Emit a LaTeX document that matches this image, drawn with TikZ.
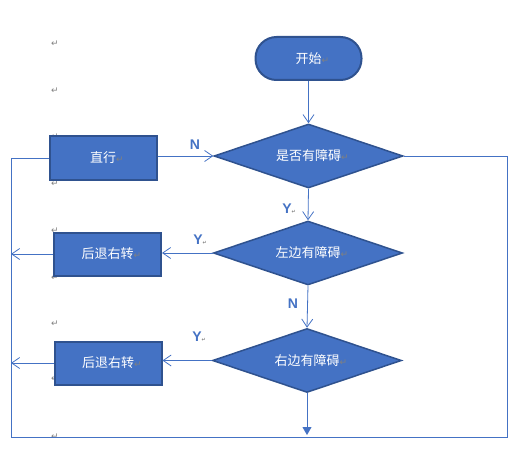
\documentclass[tikz,border=0pt]{standalone}
\usepackage{fontspec}
\setmainfont{Liberation Sans}
\newfontfamily\cjk{Noto Sans CJK SC}
\newfontfamily\symf{DejaVu Sans}
\usetikzlibrary{arrows.meta,shapes.geometric}
\definecolor{ofblue}{HTML}{4472C4}
\definecolor{ofdark}{HTML}{2F528F}
\definecolor{pmgray}{HTML}{808080}
\newcommand{\parmark}{{\symf\color{pmgray}\fontsize{9}{9}\selectfont ↵}}
\newcommand{\tinymark}{{\symf\color{pmgray}\fontsize{5}{5}\selectfont ↵}}
\newcommand{\intext}[1]{{\cjk #1}\rlap{\parmark}}
\begin{document}
\begin{tikzpicture}[x=1pt,y=-1pt,
  shapebase/.style={fill=ofblue,draw=ofdark,line width=2pt,text=white,
    font=\fontsize{13}{13}\selectfont,inner sep=0pt},
  terminal/.style={shapebase,rectangle,rounded corners=21pt,minimum width=106pt,minimum height=43pt},
  procbox/.style={shapebase,rectangle,minimum width=107pt,minimum height=43pt},
  decision/.style={shapebase,diamond,aspect=2.95,minimum width=189pt,minimum height=64pt,line width=1.5pt},
  conn/.style={draw=ofblue,line width=0.8pt},
  arr/.style={conn,-{Straight Barb[length=8pt,width=11pt]}},
  endarr/.style={conn,-{Triangle[length=8pt,width=9pt]}},
  lbl/.style={text=ofblue,font=\fontsize{14}{14}\selectfont\bfseries,inner sep=0pt},
  pmk/.style={inner sep=0pt}
]
\useasboundingbox (0,0) rectangle (529,457);
% paragraph marks
\foreach \yy [count=\i] in {44,91,137,184,231,278,324,379,437}
  \node[pmk] (pm\i) at (55,\yy) {\parmark};
% shapes
\node[terminal] (start) at (308.5,58.5) {\intext{开始}};
\node[decision] (d1) at (308.5,156) {\intext{是否有障碍}};
\node[decision] (d2) at (308,253) {\intext{左边有障碍}};
\node[decision] (d3) at (307,360.5) {\intext{右边有障碍}};
\node[procbox] (b1) at (103,158) {\intext{直行}};
\node[procbox] (b2) at (107.5,254) {\intext{后退右转}};
\node[procbox] (b3) at (108,363) {\intext{后退右转}};
\coordinate (br) at (507,437);
\coordinate (bl) at (11,437);
% connectors
\draw[arr] (start.south) -- (d1.north);
\draw[arr] (d1.south) -- (d2.north);
\draw[arr] (d2.south) -- (d3.north);
\draw[endarr,shorten >=2pt] (d3.south) -- (d3.south |- bl);
\draw[conn] (d1.east) -| (br) -- (bl) |- (b1.west);
\draw[arr] (b1.east |- d1.west) -- (d1.west);
\draw[arr] (d2.west) -- (d2.west -| b2.east);
\draw[arr] (d3.west) -- (d3.west -| b3.east);
\draw[arr] (b2.west) -- (b2.west -| bl);
\draw[arr] (b3.west) -- (b3.west -| bl);
% labels
\node[lbl] (ln1) at (195,145) {N};
\node[lbl] (ly1) at (287,209) {Y\rlap{\tinymark}};
\node[lbl] (ly2) at (198,240) {Y\rlap{\tinymark}};
\node[lbl] (ln2) at (293,304) {N};
\node[lbl] (ly3) at (197,337) {Y\rlap{\tinymark}};
\end{tikzpicture}
\end{document}
